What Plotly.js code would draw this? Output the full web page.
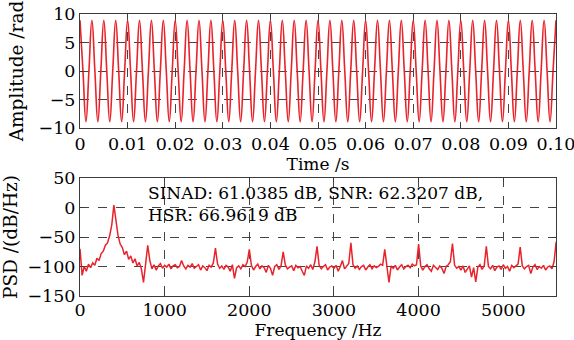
<!DOCTYPE html>
<html>
<head>
<meta charset="utf-8">
<script src="https://cdn.plot.ly/plotly-3.0.1.min.js"></script>
<style>
html,body{margin:0;padding:0;background:#fff;}
#chart{width:574px;height:340px;}
</style>
</head>
<body>
<div id="chart"></div>
<script>
// Top panel: sampled amplitude read at quarter-period points (0.000625 s apart)
const timeStart = 0;
const timeStep = 0.000625;
const amplitude = [
  8.9,0,-8.9,0,8.9,0,-8.9,0,
  8.9,0,-8.9,0,8.9,0,-8.9,0,
  8.9,0,-8.9,0,8.9,0,-8.9,0,
  8.9,0,-8.9,0,8.9,0,-8.9,0,
  8.9,0,-8.9,0,8.9,0,-8.9,0,
  8.9,0,-8.9,0,8.9,0,-8.9,0,
  8.9,0,-8.9,0,8.9,0,-8.9,0,
  8.9,0,-8.9,0,8.9,0,-8.9,0,
  8.9,0,-8.9,0,8.9,0,-8.9,0,
  8.9,0,-8.9,0,8.9,0,-8.9,0,
  8.9,0,-8.9,0,8.9,0,-8.9,0,
  8.9,0,-8.9,0,8.9,0,-8.9,0,
  8.9,0,-8.9,0,8.9,0,-8.9,0,
  8.9,0,-8.9,0,8.9,0,-8.9,0,
  8.9,0,-8.9,0,8.9,0,-8.9,0,
  8.9,0,-8.9,0,8.9,0,-8.9,0,
  8.9,0,-8.9,0,8.9,0,-8.9,0,
  8.9,0,-8.9,0,8.9,0,-8.9,0,
  8.9,0,-8.9,0,8.9,0,-8.9,0,
  8.9,0,-8.9,0,8.9,0,-8.9,0,
  8.9
];

// Bottom panel: PSD (dB/Hz) read every 25 Hz from 0 Hz
const freqStart = 0;
const freqStep = 25;
const psd = [
  -70,-115,-100,-108,-96,-102,-94,-98,-86,-90,-78,-74,-64,-60,-48,-30,
  4,-25,-48,-62,-68,-80,-74,-88,-82,-94,-87,-99,-93,-104,-127,-96,
  -64,-90,-104,-97,-106,-99,-95,-103,-98,-101,-96,-104,-99,-97,-102,-100,
  -90,-99,-104,-98,-101,-95,-103,-100,-97,-106,-99,-102,-107,-98,-101,-94,
  -69,-96,-103,-99,-105,-98,-101,-108,-97,-120,-102,-99,-104,-97,-100,-93,
  -71,-98,-106,-100,-96,-104,-99,-102,-110,-98,-103,-115,-100,-97,-105,-99,
  -75,-97,-104,-101,-99,-107,-98,-102,-100,-108,-115,-99,-103,-97,-105,-92,
  -66,-98,-104,-100,-97,-106,-101,-99,-103,-98,-108,-100,-90,-104,-99,-95,
  -60,-97,-103,-99,-105,-100,-98,-106,-101,-97,-104,-99,-102,-100,-96,-98,
  -71,-100,-127,-99,-103,-98,-106,-101,-97,-104,-100,-98,-102,-96,-99,-97,
  -62,-99,-106,-100,-97,-104,-108,-98,-101,-105,-99,-103,-112,-100,-97,-92,
  -61,-98,-103,-100,-106,-99,-110,-104,-99,-118,-102,-126,-101,-97,-105,-99,
  -66,-100,-104,-98,-107,-101,-99,-105,-97,-103,-100,-108,-98,-102,-99,-96,
  -67,-99,-104,-100,-98,-112,-101,-97,-105,-100,-103,-98,-106,-101,-99,-104,
  -92,-58
];

const timeTicks = [0,0.01,0.02,0.03,0.04,0.05,0.06,0.07,0.08,0.09,0.10];
const timeTickText = ['0','0.01','0.02','0.03','0.04','0.05','0.06','0.07','0.08','0.09','0.10'];
const annotationText = 'SINAD: 61.0385 dB, SNR: 62.3207 dB,<br>HSR: 66.9619 dB';

const red = '#e8232b';
const axisCol = '#3a3a3a';
const font = {family: 'DejaVu Serif', size: 17.5, color: '#000'};
const xTitleFont = {family: 'DejaVu Serif', size: 17, color: '#000'};
const titleFont = {family: 'DejaVu Serif', size: 18.5, color: '#000'};

const baseAxis = {
  showline: true, linecolor: axisCol, linewidth: 1, mirror: 'ticks',
  ticks: 'inside', ticklen: 4, tickcolor: axisCol,
  showgrid: true, gridcolor: '#444', gridwidth: 1, griddash: 'dash',
  zeroline: false, tickfont: font
};

const traces = [
  {x0: timeStart, dx: timeStep, y: amplitude, type: 'scatter', mode: 'lines',
   line: {color: red, width: 1.6, shape: 'spline', smoothing: 1.3}, xaxis: 'x', yaxis: 'y', hoverinfo: 'skip'},
  {x0: freqStart, dx: freqStep, y: psd, type: 'scatter', mode: 'lines',
   line: {color: red, width: 1.5}, xaxis: 'x2', yaxis: 'y2', hoverinfo: 'skip'}
];

const layout = {
  width: 574, height: 340,
  margin: {l: 80, r: 18, t: 14, b: 44},
  paper_bgcolor: '#fff', plot_bgcolor: '#fff',
  font: font, showlegend: false,
  xaxis: Object.assign({}, baseAxis, {
    anchor: 'y', domain: [0, 1], range: [0, 0.1],
    tickvals: timeTicks, ticktext: timeTickText, ticklabeloverflow: 'allow',
    title: {text: 'Time /s', font: xTitleFont, standoff: 2}
  }),
  yaxis: Object.assign({}, baseAxis, {
    anchor: 'x', domain: [0.5957, 1], range: [-10, 10], dtick: 5,
    title: {text: 'Amplitude /rad', font: titleFont, standoff: 10}
  }),
  xaxis2: Object.assign({}, baseAxis, {
    anchor: 'y2', domain: [0, 1], range: [0, 5623], dtick: 1000,
    ticklabelstandoff: -2,
    title: {text: 'Frequency /Hz', font: xTitleFont, standoff: 4}
  }),
  yaxis2: Object.assign({}, baseAxis, {
    anchor: 'x2', domain: [0, 0.4184], range: [-150, 50], dtick: 50,
    title: {text: 'PSD /(dB/Hz)', font: titleFont, standoff: 10}
  }),
  annotations: [
    {xref: 'x2', yref: 'y2', x: 780, y: 6, xanchor: 'left', yanchor: 'middle', align: 'left',
     text: annotationText, showarrow: false, font: {family: 'DejaVu Serif', size: 17, color: '#000'}}
  ]
};

Plotly.newPlot('chart', traces, layout, {staticPlot: true, displayModeBar: false});
</script>
</body>
</html>
